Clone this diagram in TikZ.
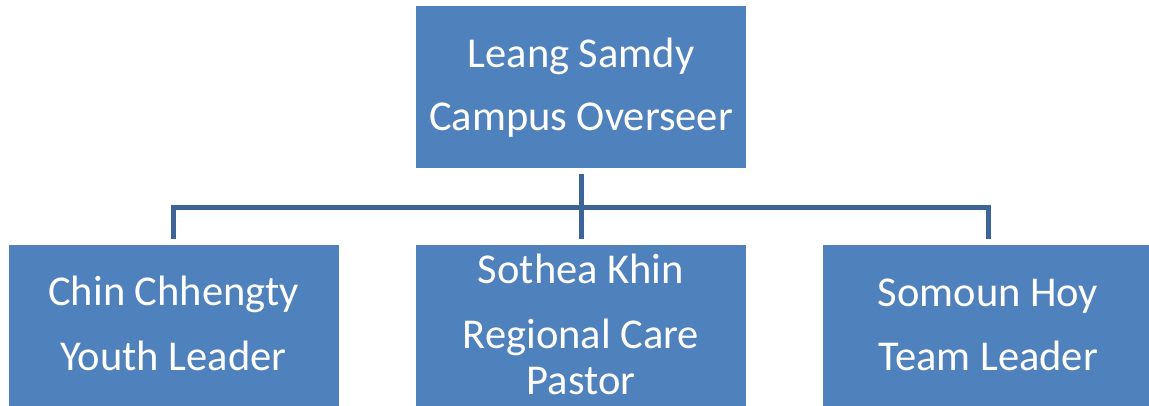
\documentclass[tikz,border=0pt]{standalone}
\usepackage{fontspec}
\setmainfont{Carlito}
\begin{document}
\begin{tikzpicture}[x=1pt,y=-1pt,
  box/.style={draw=none,fill=boxblue,minimum width=330pt,minimum height=162pt,inner sep=0pt,outer sep=0pt},
  lbl/.style={anchor=base,text=white,inner sep=0pt,font=\fontsize{42.5}{50}\selectfont},
  conn/.style={draw=lineblue,line width=5pt,line join=miter}]
\definecolor{boxblue}{HTML}{4F81BD}
\definecolor{lineblue}{HTML}{3C6496}
\useasboundingbox (0,0) rectangle (1149,405);
\clip (0,0) rectangle (1149,405);
\node[box] (top) at (581,87) {};
\node[box] (left) at (173.5,326) {};
\node[box] (mid) at (581,326) {};
\node[box] (right) at (988,326) {};
\node[lbl] (t1) at (581,67) {Leang Samdy};
\node[lbl] (t2) at (581,130) {Campus Overseer};
\node[lbl] (l1) at (173.5,305) {Chin Chhengty};
\node[lbl] (l2) at (173.5,370) {Youth Leader};
\node[lbl] (m1) at (581,283) {Sothea Khin};
\node[lbl] (m2) at (581,348) {Regional Care};
\node[lbl] (m3) at (581,394) {Pastor};
\node[lbl] (r1) at (988,306) {Somoun Hoy};
\node[lbl] (r2) at (988,370) {Team Leader};
\coordinate (bus) at (581,207);
\draw[conn] ([yshift=-6pt]top.south) -- ([yshift=6pt]mid.north);
\draw[conn] ([yshift=6pt]left.north) |- (bus) -| ([yshift=6pt]right.north);
\end{tikzpicture}
\end{document}
